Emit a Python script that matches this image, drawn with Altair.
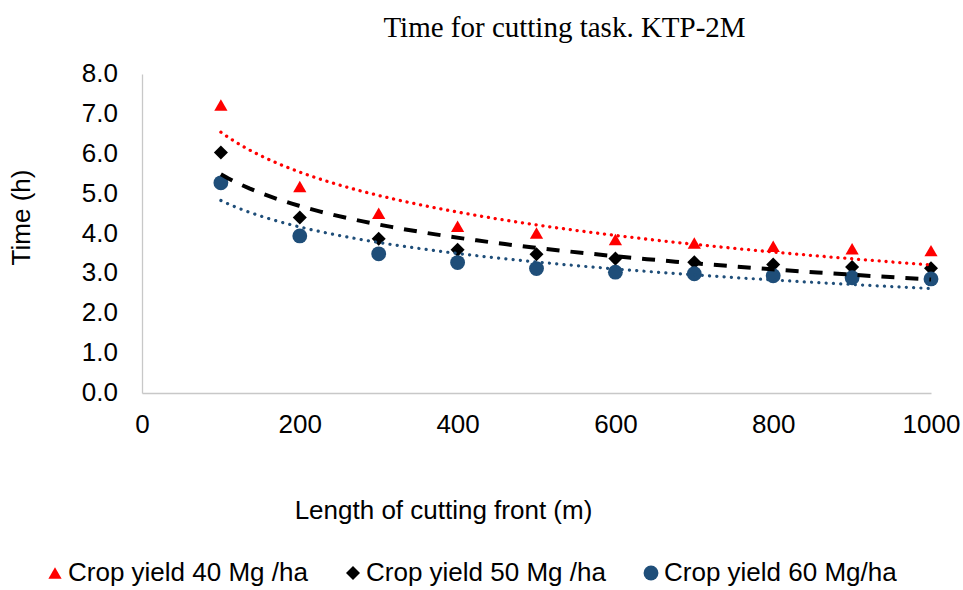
import altair as alt
import pandas as pd

lengths = [100, 200, 300, 400, 500, 600, 700, 800, 900, 1000]
yield40 = [7.22, 5.18, 4.51, 4.18, 4.01, 3.85, 3.76, 3.68, 3.62, 3.57]
yield50 = [6.03, 4.40, 3.87, 3.59, 3.48, 3.37, 3.28, 3.22, 3.16, 3.13]
yield60 = [5.27, 3.94, 3.49, 3.27, 3.12, 3.03, 2.99, 2.94, 2.89, 2.86]

y_ticks = [0, 1, 2, 3, 4, 5, 6, 7, 8]
y_tick_labels = ["0.0", "1.0", "2.0", "3.0", "4.0", "5.0", "6.0", "7.0", "8.0"]
x_ticks = [0, 200, 400, 600, 800, 1000]

series_names = ["Crop yield 40 Mg /ha", "Crop yield 50 Mg /ha", "Crop yield 60 Mg/ha"]
series_colors = ["#FF0000", "#000000", "#1F4E79"]
series_shapes = ["triangle-up", "diamond", "circle"]
series_sizes = [175, 220, 225]

rows = []
for name, vals in zip(series_names, [yield40, yield50, yield60]):
    for x, y in zip(lengths, vals):
        rows.append({"Length": x, "Time": y, "Series": name})
df = pd.DataFrame(rows)
ticks_df = pd.DataFrame({"Time": y_ticks, "label": y_tick_labels})

FONT = "Liberation Sans"

x_axis = alt.Axis(
    values=x_ticks, format="d",
    labelFlush=False, labelOverlap=False,
    title="Length of cutting front (m)",
    titleX=301, titleY=125, titleAlign="center", titleBaseline="alphabetic",
)
y_axis = alt.Axis(
    values=y_ticks, labels=False,
    title="Time (h)",
    titleX=-113, titleY=143, titleAlign="center", titleBaseline="alphabetic",
    titleAngle=270,
)
x_scale = alt.Scale(domain=[0, 1000], nice=False, zero=True)
y_scale = alt.Scale(domain=[0, 8], nice=False)

x_enc = alt.X("Length:Q", scale=x_scale, axis=x_axis)
y_enc = alt.Y("Time:Q", scale=y_scale, axis=y_axis)

points = alt.Chart(df).mark_point(filled=True, opacity=1, strokeWidth=0).encode(
    x=x_enc,
    y=y_enc,
    color=alt.Color("Series:N", scale=alt.Scale(domain=series_names, range=series_colors),
                    legend=alt.Legend(title=None)),
    shape=alt.Shape("Series:N", scale=alt.Scale(domain=series_names, range=series_shapes),
                    legend=alt.Legend(title=None)),
    size=alt.Size("Series:N", scale=alt.Scale(domain=series_names, range=series_sizes),
                  legend=None),
)

line_styles = [
    dict(color="#FF0000", strokeWidth=3.3, strokeDash=[0.1, 6.8], strokeCap="round"),
    dict(color="#000000", strokeWidth=4, strokeDash=[13, 11], strokeCap="butt"),
    dict(color="#1F4E79", strokeWidth=3.2, strokeDash=[0.1, 7.2], strokeCap="round"),
]

lines = []
for name, style in zip(series_names, line_styles):
    ln = (
        alt.Chart(df)
        .transform_filter(alt.datum.Series == name)
        .transform_regression("Length", "Time", method="log")
        .mark_line(**style)
        .encode(x=x_enc, y=y_enc)
    )
    lines.append(ln)

y_labels = alt.Chart(ticks_df).mark_text(
    align="right", baseline="middle", font=FONT, fontSize=26, color="#000000",
).encode(
    x=alt.value(-24),
    y=y_enc,
    text="label:N",
)

chart = alt.layer(points, *lines, y_labels).properties(
    width=789,
    height=319,
    autosize=alt.AutoSizeParams(type="none"),
    padding={"left": 142, "top": 74, "right": 32, "bottom": 197},
    title=alt.TitleParams(
        text="Time for cutting task. KTP-2M",
        font="Liberation Serif", fontSize=29, fontWeight="normal", color="#000000",
        anchor="middle", dx=28, dy=31, offset=26, baseline="alphabetic",
    ),
).configure_view(
    stroke=None,
).configure_axis(
    grid=False, ticks=False, tickSize=0,
    domainColor="#C8C8C8", domainWidth=1.3,
    labelFont=FONT, labelFontSize=26, labelColor="#000000",
    titleFont=FONT, titleFontSize=26, titleFontWeight="normal", titleColor="#000000",
).configure_axisX(
    labelPadding=18,
).configure_legend(
    orient="none", legendX=-100, legendY=486, direction="horizontal",
    padding=0, columnPadding=32, labelOffset=0,
    labelFont=FONT, labelFontSize=26, labelColor="#000000",
    symbolSize=170, symbolStrokeWidth=0, labelLimit=400,
)

chart.save("out.html", embed_options={"renderer": "svg", "actions": False})
